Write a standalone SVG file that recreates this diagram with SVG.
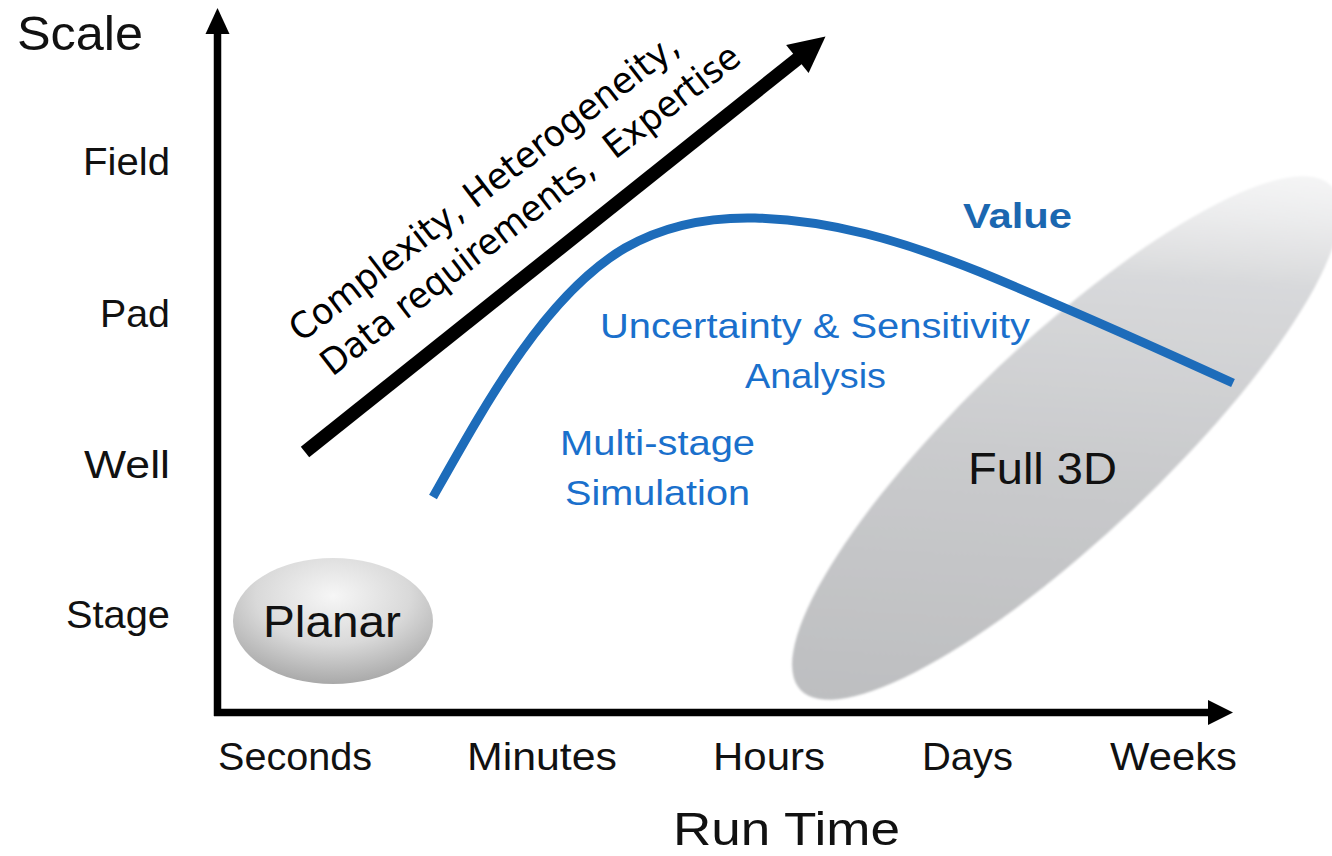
<svg xmlns="http://www.w3.org/2000/svg" width="1332" height="856" viewBox="0 0 1332 856">
  <defs>
    <style>
      .lbl { font-family: "Liberation Sans", Arial, sans-serif; fill: #111; }
      .ax { font-size: 39px; }
      .blue { font-family: "Liberation Sans", Arial, sans-serif; fill: #1a70cc; font-size: 35px; }
      .diag { font-family: "DejaVu Sans", "Liberation Sans", sans-serif; fill: #000; font-size: 36px; }
      .axis { stroke: #000; stroke-width: 7.5; fill: none; }
    </style>
    <radialGradient id="planarFill" cx="50%" cy="30%" r="70%">
      <stop offset="0" stop-color="#f6f6f6"/>
      <stop offset="0.55" stop-color="#d9d9d9"/>
      <stop offset="1" stop-color="#a9a9a9"/>
    </radialGradient>
    <linearGradient id="full3dFill" gradientUnits="userSpaceOnUse" x1="800" y1="690" x2="1340" y2="185">
      <stop offset="0" stop-color="#b9babc"/>
      <stop offset="0.45" stop-color="#c9cacc"/>
      <stop offset="0.72" stop-color="#d8d9db"/>
      <stop offset="1" stop-color="#ffffff" stop-opacity="0.2"/>
    </linearGradient>
    <filter id="soft" x="-10%" y="-10%" width="120%" height="120%">
      <feGaussianBlur stdDeviation="1.2"/>
    </filter>
  </defs>

  <rect width="1332" height="856" fill="#ffffff"/>

  <!-- method regions -->
  <g id="full3d">
    <ellipse cx="1066" cy="438" rx="366" ry="98" transform="rotate(-43.5 1066 438)" fill="url(#full3dFill)" filter="url(#soft)"/>
    <text class="lbl" x="968" y="484" font-size="44" textLength="149" lengthAdjust="spacingAndGlyphs">Full 3D</text>
  </g>
  <g id="planar">
    <ellipse cx="333" cy="621" rx="100" ry="63" fill="url(#planarFill)"/>
    <text class="lbl" x="263" y="637" font-size="44" textLength="138" lengthAdjust="spacingAndGlyphs">Planar</text>
  </g>

  <!-- axes -->
  <g id="axes">
    <line class="axis" x1="217.5" y1="716" x2="217.5" y2="30"/>
    <polygon points="217.5,8 205.5,34 229.5,34" fill="#000"/>
    <line class="axis" x1="214" y1="712.5" x2="1212" y2="712.5"/>
    <polygon points="1233,712.5 1208,700 1208,725" fill="#000"/>
  </g>

  <g id="axis-labels">
    <text class="lbl" x="17" y="50" font-size="48" textLength="126" lengthAdjust="spacingAndGlyphs">Scale</text>
    <text class="lbl ax" x="170" y="175" text-anchor="end" textLength="87" lengthAdjust="spacingAndGlyphs">Field</text>
    <text class="lbl ax" x="170" y="327" text-anchor="end" textLength="70" lengthAdjust="spacingAndGlyphs">Pad</text>
    <text class="lbl ax" x="170" y="478" text-anchor="end" textLength="86" lengthAdjust="spacingAndGlyphs">Well</text>
    <text class="lbl ax" x="170" y="628" text-anchor="end" textLength="104" lengthAdjust="spacingAndGlyphs">Stage</text>

    <text class="lbl ax" x="218" y="770" textLength="154" lengthAdjust="spacingAndGlyphs">Seconds</text>
    <text class="lbl ax" x="467" y="770" textLength="150" lengthAdjust="spacingAndGlyphs">Minutes</text>
    <text class="lbl ax" x="713" y="770" textLength="112" lengthAdjust="spacingAndGlyphs">Hours</text>
    <text class="lbl ax" x="922" y="770" textLength="91" lengthAdjust="spacingAndGlyphs">Days</text>
    <text class="lbl ax" x="1110" y="770" textLength="127" lengthAdjust="spacingAndGlyphs">Weeks</text>
    <text class="lbl" x="673" y="845" font-size="46" textLength="227" lengthAdjust="spacingAndGlyphs">Run Time</text>
  </g>

  <!-- trend arrow and value curve -->
  <g id="connectors">
    <g transform="translate(305 452) rotate(-38.6)">
      <line x1="0" y1="0" x2="632" y2="0" stroke="#000" stroke-width="13.5"/>
      <polygon points="666,0 630,-18 630,18" fill="#000"/>
    </g>
    <path id="value-curve" d="M433,497 C485,405 545,295 625,248 C665,225 710,217 755,218 C830,220 900,240 980,272 C1060,305 1150,345 1233,383" fill="none" stroke="#1d6cba" stroke-width="9"/>
  </g>

  <g id="trend-label" transform="translate(301 343) rotate(-37.5)">
    <text class="diag" x="0" y="0" textLength="480" lengthAdjust="spacingAndGlyphs">Complexity, Heterogeneity,</text>
    <text class="diag" x="4" y="46" textLength="518" lengthAdjust="spacingAndGlyphs" xml:space="preserve">Data requirements,  Expertise</text>
  </g>

  <g id="value-labels">
    <text class="blue" x="963" y="228" font-weight="bold" style="fill:#1b67b0" textLength="109" lengthAdjust="spacingAndGlyphs">Value</text>
    <text class="blue" x="600" y="338" textLength="430" lengthAdjust="spacingAndGlyphs">Uncertainty &amp; Sensitivity</text>
    <text class="blue" x="745" y="388" textLength="141" lengthAdjust="spacingAndGlyphs">Analysis</text>
    <text class="blue" x="560" y="455" textLength="195" lengthAdjust="spacingAndGlyphs">Multi-stage</text>
    <text class="blue" x="565" y="505" textLength="185" lengthAdjust="spacingAndGlyphs">Simulation</text>
  </g>
</svg>
